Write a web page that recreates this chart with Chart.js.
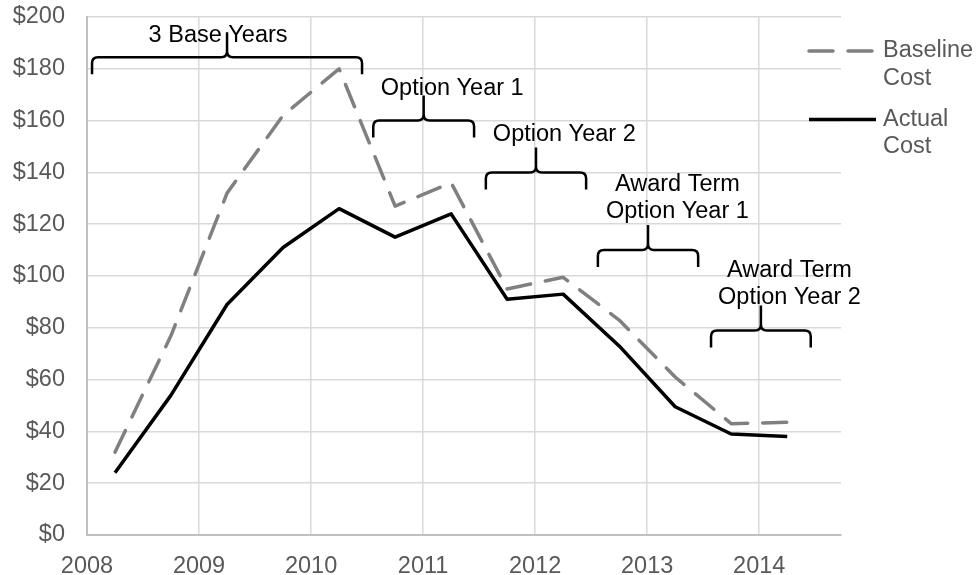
<!DOCTYPE html>
<html>
<head>
<meta charset="utf-8">
<script src="https://cdn.jsdelivr.net/npm/chart.js@4"></script>
<style>
body {margin: 0; background: #fff;}
#wrap {width: 977px; height: 575px; position: relative;}
</style>
</head>
<body>
<div id="wrap"><canvas id="chart"></canvas></div>
<script>
//Half-year points, one per contract half
const years = [2008.25, 2008.75, 2009.25, 2009.75, 2010.25, 2010.75, 2011.25, 2011.75, 2012.25, 2012.75, 2013.25, 2013.75, 2014.25];
const baselineCost = [32, 77, 132, 162, 180, 127, 136, 95, 99.5, 83, 61, 43, 43.5];
const actualCost = [24, 54, 89, 111, 126, 115, 124, 91, 93, 73, 49.5, 39, 38];
const yTicks = [0, 20, 40, 60, 80, 100, 120, 140, 160, 180, 200];

//Curly-brace callouts over each contract period
const bracketLabels = [["3 Base Years"], ["Option Year 1"], ["Option Year 2"], ["Award Term", "Option Year 1"], ["Award Term", "Option Year 2"]];
const bracketFrom = [2008.045, 2010.555, 2011.56, 2012.56, 2013.57];
const bracketTo = [2010.455, 2011.455, 2012.455, 2013.455, 2014.46];
const bracketLevel = [184.5, 160, 140, 110, 79];
const labelX = [2009.17, 2011.26, 2012.26, 2013.27, 2014.27];
const labelY = [190.5, 170, 152, 133, 99.7];

const FONT = "'Liberation Sans', Arial, sans-serif";
const GREY = "#595959";

const brackets = {
	id: "brackets",
	afterDatasetsDraw(chart) {
		const {ctx, scales: {x, y}} = chart;
		ctx.save();
		ctx.strokeStyle = "#000";
		ctx.lineWidth = 2.5;
		ctx.lineJoin = "round";
		bracketFrom.forEach((from, i) => {
			const x0 = x.getPixelForValue(from), x1 = x.getPixelForValue(bracketTo[i]);
			const xm = (x0 + x1) / 2, yb = y.getPixelForValue(bracketLevel[i]);
			const r = 6;
			ctx.beginPath();
			ctx.moveTo(x0, yb + 17);
			ctx.lineTo(x0, yb + r);
			ctx.quadraticCurveTo(x0, yb, x0 + r, yb);
			ctx.lineTo(xm - r, yb);
			ctx.quadraticCurveTo(xm, yb, xm, yb - r);
			ctx.lineTo(xm, yb - 25);
			ctx.moveTo(xm, yb - r);
			ctx.quadraticCurveTo(xm, yb, xm + r, yb);
			ctx.lineTo(x1 - r, yb);
			ctx.quadraticCurveTo(x1, yb, x1, yb + r);
			ctx.lineTo(x1, yb + 17);
			ctx.stroke();
		});
		ctx.font = "23.5px " + FONT;
		ctx.fillStyle = "#000";
		ctx.textAlign = "center";
		ctx.textBaseline = "alphabetic";
		bracketLabels.forEach((lines, i) => {
			const tx = x.getPixelForValue(labelX[i]), ty = y.getPixelForValue(labelY[i]);
			lines.forEach((line, k) => ctx.fillText(line, tx, ty + k * 27.5));
		});
		ctx.restore();
	},
	//Legend off to the right, with wrapped labels (built-in one won't wrap)
	afterDraw(chart) {
		const {ctx, chartArea} = chart;
		ctx.save();
		ctx.font = "23.5px " + FONT;
		ctx.textAlign = "left";
		ctx.textBaseline = "middle";
		chart.data.datasets.forEach((ds, i) => {
			const ly = chartArea.top + 34 + i * 68.5;
			ctx.strokeStyle = ds.borderColor;
			ctx.lineWidth = ds.borderWidth;
			ctx.lineCap = ds.borderCapStyle || "butt";
			ctx.setLineDash(ds.borderDash || []);
			ctx.beginPath();
			ctx.moveTo(chartArea.right - 32, ly);
			ctx.lineTo(chartArea.right + 35, ly);
			ctx.stroke();
			ctx.fillStyle = GREY;
			ds.label.split(" ").forEach((word, k) => ctx.fillText(word, chartArea.right + 42, ly + k * 27.5));
		});
		ctx.restore();
	},
};

new Chart(document.getElementById("chart"), {
	type: "line",
	data: {
		datasets: [
			{
				label: "Baseline Cost",
				data: years.map((yr, i) => ({x: yr, y: baselineCost[i]})),
				borderColor: "#808080",
				borderWidth: 3.5,
				borderDash: [24, 15],
				borderCapStyle: "round",
				borderJoinStyle: "round",
				pointRadius: 0,
				tension: 0,
			},
			{
				label: "Actual Cost",
				data: years.map((yr, i) => ({x: yr, y: actualCost[i]})),
				borderColor: "#000000",
				borderWidth: 3.5,
				borderJoinStyle: "round",
				pointRadius: 0,
				tension: 0,
			},
		],
	},
	options: {
		responsive: true,
		maintainAspectRatio: false,
		animation: false,
		layout: {padding: {top: 0, right: 136, left: 0, bottom: 0}},
		plugins: {legend: {display: false}, tooltip: {enabled: false}},
		scales: {
			x: {
				type: "linear",
				min: 2008, max: 2014.73,
				afterFit: s => { s.height = 40; },
				grid: {color: "#d9d9d9", lineWidth: 1.5, drawTicks: false},
				border: {color: "#bfbfbf", width: 2},
				ticks: {
					stepSize: 1, includeBounds: false, padding: 17,
					color: GREY, font: {family: FONT, size: 23.5},
					callback: v => Number.isInteger(v) ? String(v) : "",
				},
			},
			y: {
				min: 0, max: 200,
				//tick padding gets added to the top overhang; pin it so the plot starts at y=17
				afterFit: s => { s.width = 87; s.paddingTop = 17; s.paddingBottom = 0; },
				afterBuildTicks: s => { s.ticks = yTicks.map(v => ({value: v})); },
				grid: {color: "#d9d9d9", lineWidth: 1.5, drawTicks: false},
				border: {color: "#bfbfbf", width: 2},
				ticks: {
					padding: 22,
					color: GREY, font: {family: FONT, size: 23.5},
					callback: v => "$" + v,
				},
			},
		},
	},
	plugins: [brackets],
});
</script>
</body>
</html>
